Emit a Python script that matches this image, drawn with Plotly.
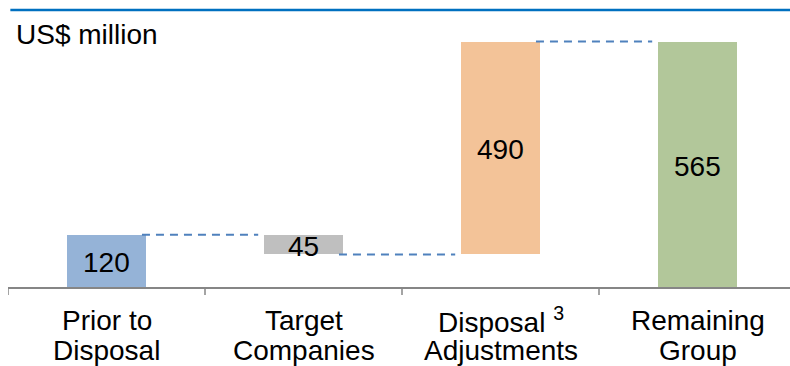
import plotly.graph_objects as go

# Waterfall steps (US$ million)
label_line1 = ["Prior to", "Target", "Disposal <sup>3</sup>", "Remaining"]
label_line2 = ["Disposal", "Companies", "Adjustments", "Group"]
step_values = [120, -45, 490, 565]
step_kinds = ["absolute", "relative", "relative", "total"]
bar_colors = ["#95B3D7", "#BFBFBF", "#F3C398", "#B2C79A"]

# Work out floating bar bases / heights from the step values
bases, heights, levels = [], [], []
running = 0
for v, kind in zip(step_values, step_kinds):
    if kind == "absolute":
        lo, hi = 0, v
        running = v
    elif kind == "relative":
        lo, hi = running, running + v
        running = running + v
    else:
        lo, hi = 0, v
        running = v
    bases.append(min(lo, hi))
    heights.append(abs(hi - lo))
    levels.append(running)

labels = [str(abs(v)) for v in step_values]
xs = list(range(len(step_values)))
FONT = "Liberation Sans, Arial, sans-serif"
BLACK = "#000000"
AXIS_GREY = "#868686"

fig = go.Figure()
fig.add_trace(go.Bar(
    x=xs, y=heights, base=bases, width=0.405,
    marker=dict(color=bar_colors, line=dict(width=0)),
    hoverinfo="skip",
))

# Value labels centred in each bar
for x, b, h, t in zip(xs, bases, heights, labels):
    fig.add_annotation(x=x, y=b + h / 2, xref="x", yref="y", text=t,
                       showarrow=False, xanchor="center", yanchor="middle",
                       yshift=-2,
                       font=dict(family=FONT, size=28, color=BLACK))

# Dashed connectors between consecutive bars
for i in range(len(xs) - 1):
    fig.add_shape(type="line", xref="x", yref="y",
                  x0=xs[i] + 0.18, x1=xs[i + 1] - 0.23,
                  y0=levels[i], y1=levels[i],
                  line=dict(color="#4F81BD", width=2, dash="8px,6px"))

# Rule across the top of the panel
fig.add_shape(type="line", xref="paper", yref="paper",
              x0=0.003, x1=1.0, y0=1.0, y1=1.0,
              line=dict(color="#0070C0", width=2.5))

fig.add_annotation(text="US$ million", xref="paper", yref="paper",
                   x=0.008, y=0.975, xanchor="left", yanchor="top",
                   showarrow=False,
                   font=dict(family=FONT, size=28, color=BLACK))

plot_h = 277
ytop = max(levels) * plot_h / 245.5

# Two-line category labels under the axis
for x, l1, l2 in zip(xs, label_line1, label_line2):
    for txt, off in ((l1, 33), (l2, 63)):
        fig.add_annotation(x=x, y=-off / plot_h, xref="x", yref="paper",
                           text=txt, showarrow=False,
                           xanchor="center", yanchor="middle",
                           font=dict(family=FONT, size=28, color=BLACK))

fig.update_layout(
    width=790, height=366,
    margin=dict(l=8, r=0, t=10, b=79),
    paper_bgcolor="white", plot_bgcolor="white",
    showlegend=False, bargap=0,
    xaxis=dict(
        range=[-0.5, -0.5 + 782 / 197],
        showline=True, linecolor=AXIS_GREY, linewidth=1.5,
        showticklabels=False, ticks="", showgrid=False, zeroline=False,
    ),
    yaxis=dict(visible=False, range=[0, ytop], showgrid=False, zeroline=False),
)

# Boundary tick marks between categories
for b in [x - 0.5 for x in xs]:
    fig.add_shape(type="line", xref="x", yref="paper",
                  x0=b, x1=b, y0=0, y1=-8 / plot_h,
                  line=dict(color=AXIS_GREY, width=1.5))

fig.write_html("out.html")
